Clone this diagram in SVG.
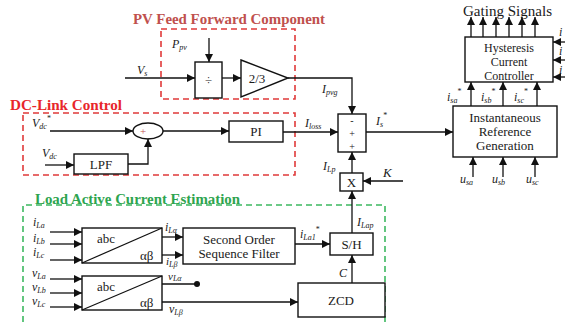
<svg xmlns="http://www.w3.org/2000/svg" width="565" height="324" viewBox="0 0 565 324">
<style>
text{font-family:"Liberation Serif","Times New Roman",serif;fill:#1a1a1a}
.blk{fill:#fff;stroke:#111;stroke-width:1.4}
.bt{font-size:13px;text-anchor:middle}
.bt2{font-size:12px;text-anchor:middle}
.sg{font-size:10px;text-anchor:middle}
.lb{font-size:12px;font-style:italic}
.sb{font-size:8px}
.title{font-size:14px;font-weight:bold}
.conn path{fill:none;stroke:#111;stroke-width:1.3}
.dashR{fill:none;stroke:#e03a3a;stroke-width:1.6;stroke-dasharray:6 4}
.dashG{fill:none;stroke:#3cb860;stroke-width:1.6;stroke-dasharray:6 4}
</style>
<defs>
<marker id="ar" viewBox="0 0 10 10" refX="10" refY="5" markerWidth="9" markerHeight="8" markerUnits="userSpaceOnUse" orient="auto">
<path d="M0,0 L10,5 L0,10 z" fill="#111"/>
</marker>
</defs>
<rect width="565" height="324" fill="#fff"/>

<g id="pv-ff-region">
<rect class="dashR" x="161" y="29" width="134" height="70"/>
<text class="title" x="133" y="24" style="fill:#c0504d" textLength="192" lengthAdjust="spacingAndGlyphs">PV Feed Forward Component</text>
</g>
<g id="dc-link-region">
<rect class="dashR" x="23" y="113" width="272" height="62"/>
<text class="title" x="10" y="110" style="fill:#e8262a" textLength="112" lengthAdjust="spacingAndGlyphs">DC-Link Control</text>
</g>
<g id="load-region">
<path class="dashG" d="M23,322 V205 H385 V322"/>
<rect x="33" y="192" width="208" height="12" fill="#fff"/>
<text class="title" x="35" y="204" style="fill:#2ea44f" textLength="205" lengthAdjust="spacingAndGlyphs">Load Active Current Estimation</text>
</g>

<g id="divider">
<rect class="blk" x="195" y="62" width="27" height="36"/>
<text class="bt" x="208.5" y="84">÷</text>
</g>
<g id="gain">
<polygon class="blk" points="241,60 288,78 241,97"/>
<text class="bt" x="257" y="83">2/3</text>
</g>
<g id="summer">
<ellipse class="blk" cx="148" cy="131" rx="15" ry="8"/>
<text x="140" y="135" style="font-size:11px;fill:#c0504d">+</text>
<text x="147" y="142" style="font-size:11px">−</text>
</g>
<g id="pi">
<rect class="blk" x="229" y="121" width="54" height="21"/>
<text class="bt" x="256" y="136">PI</text>
</g>
<g id="lpf">
<rect class="blk" x="74" y="154" width="54" height="20"/>
<text class="bt" x="101" y="169">LPF</text>
</g>
<g id="sum-box">
<rect class="blk" x="338" y="114" width="28" height="38"/>
<text class="sg" x="352" y="124">-</text>
<text class="sg" x="352" y="137">+</text>
<text class="sg" x="352" y="150">+</text>
</g>
<g id="multiplier">
<rect class="blk" x="340" y="173" width="23" height="18"/>
<text class="bt" x="351.5" y="187">X</text>
</g>
<g id="irg">
<rect class="blk" x="453" y="106" width="104" height="51"/>
<text class="bt" x="505" y="122">Instantaneous</text>
<text class="bt" x="505" y="136">Reference</text>
<text class="bt" x="505" y="150">Generation</text>
</g>
<g id="hcc">
<rect class="blk" x="465" y="37" width="88" height="45"/>
<text class="bt2" x="509" y="52">Hysteresis</text>
<text class="bt2" x="509" y="66">Current</text>
<text class="bt2" x="509" y="80">Controller</text>
</g>
<g id="abc1">
<rect class="blk" x="82" y="228" width="80" height="35"/>
<path d="M82,263 L162,228" stroke="#111" stroke-width="1.2"/>
<text x="97" y="243" style="font-size:13px">abc</text>
<text x="140" y="260" style="font-size:13px">αβ</text>
</g>
<g id="abc2">
<rect class="blk" x="82" y="276" width="80" height="34"/>
<path d="M82,310 L162,276" stroke="#111" stroke-width="1.2"/>
<text x="97" y="291" style="font-size:13px">abc</text>
<text x="140" y="307" style="font-size:13px">αβ</text>
</g>
<g id="sosf">
<rect class="blk" x="183" y="228" width="112" height="36"/>
<text class="bt" x="239" y="244">Second Order</text>
<text class="bt" x="239" y="258">Sequence Filter</text>
</g>
<g id="sh">
<rect class="blk" x="330" y="233" width="43" height="22"/>
<text class="bt" x="351.5" y="249">S/H</text>
</g>
<g id="zcd">
<rect class="blk" x="298" y="283" width="87" height="34"/>
<text class="bt" x="341" y="305">ZCD</text>
</g>
<g id="junction">
<circle cx="197" cy="284" r="3" fill="#111"/>
</g>

<g class="conn" id="connectors">
<path d="M125,78 H195" marker-end="url(#ar)"/>
<path d="M209,38 V62" marker-end="url(#ar)"/>
<path d="M222,78 H241" marker-end="url(#ar)"/>
<path d="M288,78 H352 V114" marker-end="url(#ar)"/>
<path d="M50,131 H133" marker-end="url(#ar)"/>
<path d="M45,165 H74" marker-end="url(#ar)"/>
<path d="M128,164 H148 V139" marker-end="url(#ar)"/>
<path d="M163,131 H229" marker-end="url(#ar)"/>
<path d="M283,132 H338" marker-end="url(#ar)"/>
<path d="M366,132 H453" marker-end="url(#ar)"/>
<path d="M352,173 V152" marker-end="url(#ar)"/>
<path d="M403,181 H363" marker-end="url(#ar)"/>
<path d="M352,233 V191" marker-end="url(#ar)"/>
<path d="M352,283 V255" marker-end="url(#ar)"/>
<path d="M50,232 H82" marker-end="url(#ar)"/>
<path d="M50,244 H82" marker-end="url(#ar)"/>
<path d="M50,260 H82" marker-end="url(#ar)"/>
<path d="M162,237 H183" marker-end="url(#ar)"/>
<path d="M162,255 H183" marker-end="url(#ar)"/>
<path d="M295,244 H330" marker-end="url(#ar)"/>
<path d="M50,279 H82" marker-end="url(#ar)"/>
<path d="M50,293 H82" marker-end="url(#ar)"/>
<path d="M50,307 H82" marker-end="url(#ar)"/>
<path d="M162,284 H197"/>
<path d="M162,302 H298" marker-end="url(#ar)"/>
<path d="M473,177 V157" marker-end="url(#ar)"/>
<path d="M503,177 V157" marker-end="url(#ar)"/>
<path d="M535,177 V157" marker-end="url(#ar)"/>
<path d="M471,106 V82" marker-end="url(#ar)"/>
<path d="M503,106 V82" marker-end="url(#ar)"/>
<path d="M537,106 V82" marker-end="url(#ar)"/>
<path d="M471,37 V17" marker-end="url(#ar)"/>
<path d="M483,37 V17" marker-end="url(#ar)"/>
<path d="M496,37 V17" marker-end="url(#ar)"/>
<path d="M509,37 V17" marker-end="url(#ar)"/>
<path d="M522,37 V17" marker-end="url(#ar)"/>
<path d="M535,37 V17" marker-end="url(#ar)"/>
<path d="M565,42 H553" marker-end="url(#ar)"/>
<path d="M565,60 H553" marker-end="url(#ar)"/>
<path d="M565,77 H553" marker-end="url(#ar)"/>
</g>

<g id="labels">
<text x="463" y="16" style="font-size:14px" textLength="89" lengthAdjust="spacingAndGlyphs">Gating Signals</text>
<text class="lb" x="137" y="74">V<tspan class="sb" dy="2">s</tspan></text>
<text class="lb" x="172" y="48">P<tspan class="sb" dy="2">pv</tspan></text>
<text class="lb" x="322" y="93">I<tspan class="sb" dy="2">pvg</tspan></text>
<text class="lb" x="32" y="127">V<tspan class="sb" dy="2">dc</tspan><tspan class="sb" dy="-8" style="font-style:normal">*</tspan></text>
<text class="lb" x="42" y="157">V<tspan class="sb" dy="2">dc</tspan></text>
<text class="lb" x="305" y="127">I<tspan class="sb" dy="2">loss</tspan></text>
<text class="lb" x="376" y="125">I<tspan class="sb" dy="2">s</tspan><tspan class="sb" dy="-9" style="font-style:normal">*</tspan></text>
<text class="lb" x="323" y="170">I<tspan class="sb" dy="2">Lp</tspan></text>
<text class="lb" x="383" y="177" style="font-size:13px">K</text>
<text class="lb" x="357" y="226">I<tspan class="sb" dy="2">Lap</tspan></text>
<text class="lb" x="339" y="277">C</text>
<text class="lb" x="300" y="238">i<tspan class="sb" dy="2">La1</tspan><tspan class="sb" dy="-8" style="font-style:normal">*</tspan></text>
<text class="lb" x="165" y="231">i<tspan class="sb" dy="2">Lα</tspan></text>
<text class="lb" x="166" y="265" style="font-size:11px">i<tspan class="sb" dy="2">Lβ</tspan></text>
<text class="lb" x="168" y="280" style="font-size:11px">v<tspan class="sb" dy="1">Lα</tspan></text>
<text class="lb" x="169" y="313">v<tspan class="sb" dy="2">Lβ</tspan></text>
<text class="lb" x="33" y="226">i<tspan class="sb" dy="2">La</tspan></text>
<text class="lb" x="33" y="242">i<tspan class="sb" dy="2">Lb</tspan></text>
<text class="lb" x="33" y="256">i<tspan class="sb" dy="2">Lc</tspan></text>
<text class="lb" x="32" y="277">v<tspan class="sb" dy="2">La</tspan></text>
<text class="lb" x="32" y="291">v<tspan class="sb" dy="2">Lb</tspan></text>
<text class="lb" x="32" y="305">v<tspan class="sb" dy="2">Lc</tspan></text>
<text class="lb" x="447" y="101">i<tspan class="sb" dy="2">sa</tspan><tspan class="sb" dy="-9" style="font-style:normal">*</tspan></text>
<text class="lb" x="481" y="101">i<tspan class="sb" dy="2">sb</tspan><tspan class="sb" dy="-9" style="font-style:normal">*</tspan></text>
<text class="lb" x="514" y="101">i<tspan class="sb" dy="2">sc</tspan><tspan class="sb" dy="-9" style="font-style:normal">*</tspan></text>
<text class="lb" x="460" y="183">u<tspan class="sb" dy="2">sa</tspan></text>
<text class="lb" x="492" y="183">u<tspan class="sb" dy="2">sb</tspan></text>
<text class="lb" x="526" y="183">u<tspan class="sb" dy="2">sc</tspan></text>
<text class="lb" x="559" y="36">i</text>
<text class="lb" x="559" y="55">i</text>
<text class="lb" x="559" y="74">i</text>
</g>
</svg>
